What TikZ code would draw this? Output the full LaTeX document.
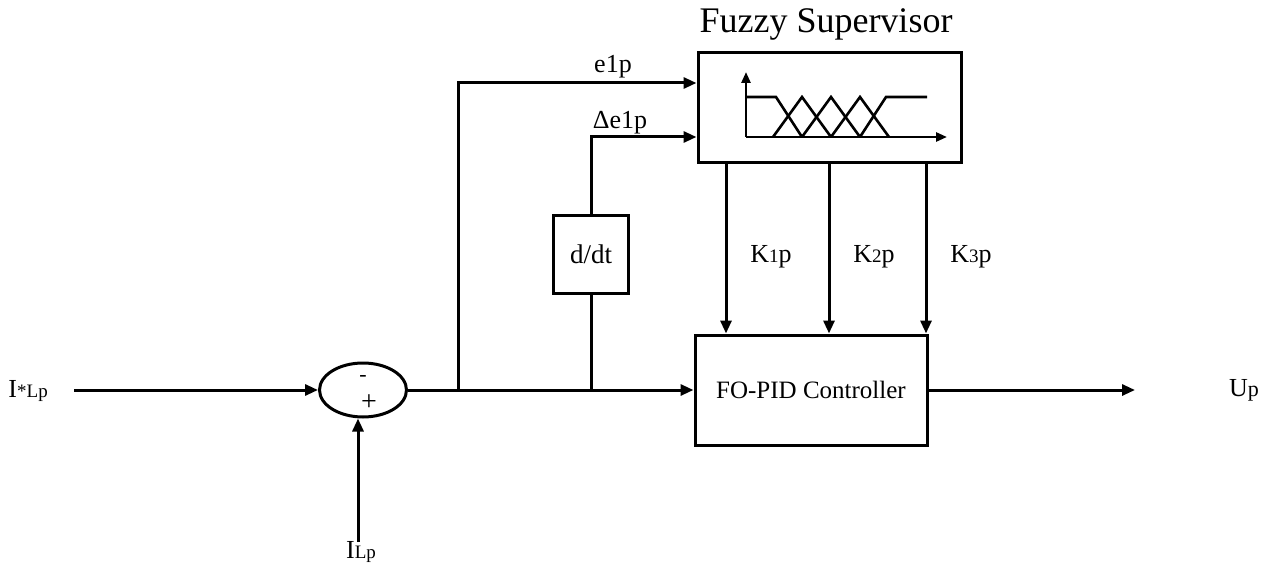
\documentclass[tikz,border=0pt]{standalone}
\usepackage{fontspec}
\setmainfont{Liberation Serif}
\usetikzlibrary{arrows.meta, positioning, shapes.geometric}

\begin{document}
\begin{tikzpicture}[x=1pt,y=-1pt,line width=3pt,
          >={Triangle[length=13pt,width=11pt]},
          block/.style={draw,line width=3pt,inner sep=0pt,
                      font=\fontsize{27}{32}\selectfont},
          lbl/.style={inner sep=0pt,font=\fontsize{26}{30}\selectfont}]
        \useasboundingbox (0,0) rectangle (1272,567);
        % blocks
        \node[block,minimum width=263pt,minimum height=110pt](fuzzy) at (829.5,108){};
        \node[anchor=base,font=\fontsize{36}{40}\selectfont](title) at (826,33){Fuzzy Supervisor};
        \node[block,minimum width=232pt,minimum height=110pt,
              font=\fontsize{25}{30}\selectfont](fopid) at (811,390){FO-PID Controller};
        \node[block,minimum width=75pt,minimum height=78pt](ddt) at (591,254){d/dt};
        \node[ellipse,draw,minimum width=87pt,minimum height=54pt,inner sep=0pt](sum) at (363,390){};
        \node[lbl,font=\fontsize{22}{26}\selectfont](minus) at (363,378){-};
        \node[lbl,font=\fontsize{28}{32}\selectfont](plus) at (369,403){+};
        % membership functions
        \begin{scope}[line width=2.6pt,>={Triangle[length=11pt,width=9pt]}]
          \draw[->] (746,137) -- (947,137);
          \draw[->] (746,137) -- (746,72);
          \draw (746,97) -- (776,97) -- (802,137);
          \foreach \c in {802,831,860}
            \draw (\c-29,137) -- (\c,97) -- (\c+29,137);
          \draw (860,137) -- (886,97) -- (927,97);
        \end{scope}
        % signals
        \node[lbl,anchor=base west](iref) at (7,397){I{\fontsize{19}{22}\selectfont *Lp}};
        \coordinate (in) at (74,390);
        \draw[->] (in) -- (sum.west);
        \coordinate (b1) at (458,390);
        \coordinate (b2) at (591,390);
        \draw[->] (sum.east) -- (fopid.west);
        \draw[->] (b1) |- ([yshift=25pt]fuzzy.west);
        \node[lbl,anchor=base](elbl) at (613,73){e1p};
        \draw (b2) -- (ddt.south);
        \draw[->] (ddt.north) |- ([yshift=-29pt]fuzzy.west);
        \node[lbl,anchor=base](delbl) at (620,129){Δe1p};
        \foreach \x/\k in {726/1,829/2,926/3}{
          \coordinate (k\k) at (\x,250);
          \draw[->] (fuzzy.south -| k\k) -- (fopid.north -| k\k);
          \node[lbl,anchor=base](klbl\k) at (\x+45,262){K{\fontsize{19}{22}\selectfont\k}p};
        }
        \coordinate (out) at (1135,390);
        \draw[->] (fopid.east) -- (out);
        \node[lbl,anchor=base](up) at (1244,396){U{\fontsize{22}{26}\selectfont p}};
        \coordinate (ilp) at (358,542);
        \draw[->] (ilp) -- (sum.south -| ilp);
        \node[lbl,anchor=base](ilpl) at (361,558){I{\fontsize{19}{22}\selectfont Lp}};
      \end{tikzpicture}
\end{document}
